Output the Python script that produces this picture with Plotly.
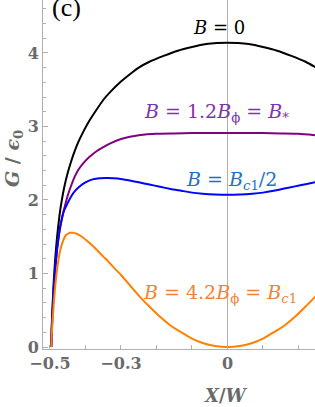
import plotly.graph_objects as go

# ---- data ----
x_b0 = [-0.4965, -0.495, -0.49, -0.485, -0.48, -0.475, -0.47, -0.46, -0.45, -0.44, -0.43, -0.42,
        -0.406, -0.39, -0.37, -0.35, -0.33, -0.3, -0.275, -0.25, -0.22, -0.18, -0.14, -0.1,
        -0.06, -0.03, 0.0, 0.03, 0.06, 0.1, 0.14, 0.18, 0.22, 0.25]
g_b0 = [0.0, 0.3, 0.85, 1.22, 1.5, 1.72, 1.9, 2.17, 2.37, 2.53, 2.67, 2.79,
        2.93, 3.07, 3.22, 3.36, 3.47, 3.61, 3.71, 3.8, 3.88, 3.96, 4.03, 4.08,
        4.12, 4.135, 4.14, 4.135, 4.12, 4.08, 4.03, 3.96, 3.88, 3.8]

x_bs = [-0.4965, -0.495, -0.49, -0.485, -0.48, -0.475, -0.47, -0.465, -0.46, -0.45, -0.44, -0.43,
        -0.42, -0.406, -0.39, -0.37, -0.35, -0.33, -0.3, -0.275, -0.25, -0.2, -0.15, -0.1,
        0.0, 0.1, 0.15, 0.2, 0.25]
g_bs = [0.0, 0.25, 0.76, 1.08, 1.33, 1.52, 1.66, 1.78, 1.88, 2.06, 2.2, 2.32,
        2.41, 2.5, 2.58, 2.66, 2.72, 2.77, 2.83, 2.86, 2.88, 2.9, 2.905, 2.91,
        2.91, 2.91, 2.905, 2.9, 2.88]

x_bh = [-0.4965, -0.495, -0.49, -0.485, -0.48, -0.475, -0.47, -0.46, -0.45, -0.44, -0.43, -0.415,
        -0.4, -0.38, -0.36, -0.34, -0.32, -0.3, -0.275, -0.25, -0.22, -0.19, -0.16, -0.13,
        -0.1, -0.07, -0.035, 0.0, 0.035, 0.07, 0.1, 0.13, 0.16, 0.19, 0.22, 0.25]
g_bh = [0.0, 0.22, 0.72, 1.08, 1.33, 1.52, 1.67, 1.86, 1.96, 2.05, 2.12, 2.19,
        2.24, 2.28, 2.297, 2.3, 2.295, 2.285, 2.265, 2.24, 2.21, 2.18, 2.15, 2.125,
        2.1, 2.085, 2.074, 2.07, 2.074, 2.085, 2.1, 2.125, 2.155, 2.185, 2.215, 2.245]

x_bc = [-0.4965, -0.495, -0.49, -0.485, -0.48, -0.475, -0.47, -0.465, -0.46, -0.455, -0.45, -0.443,
        -0.435, -0.425, -0.41, -0.39, -0.37, -0.35, -0.339, -0.32, -0.3, -0.275, -0.25, -0.22,
        -0.19, -0.16, -0.13, -0.1, -0.07, -0.035, 0.0, 0.035, 0.07, 0.1, 0.13, 0.16,
        0.19, 0.22, 0.25]
g_bc = [0.0, 0.17, 0.55, 0.84, 1.06, 1.22, 1.34, 1.42, 1.48, 1.52, 1.54, 1.553,
        1.555, 1.54, 1.5, 1.42, 1.33, 1.23, 1.18, 1.08, 0.98, 0.84, 0.7, 0.55,
        0.41, 0.29, 0.2, 0.115, 0.055, 0.014, 0.0, 0.014, 0.055, 0.115, 0.2, 0.29,
        0.41, 0.55, 0.7]

x_tickvals = [-0.5, -0.4, -0.3, -0.2, -0.1, 0.0, 0.1, 0.2]
x_ticktext = ["<b>\u22120.5</b>", "", "<b>\u22120.3</b>", "", "", "<b>0</b>", "", ""]
y_tickvals = [0, 1, 2, 3, 4]
y_ticktext = ["<b>0</b>", "<b>1</b>", "<b>2</b>", "<b>3</b>", "<b>4</b>"]

W, H = 315, 407
ML, MR, MT, MB = 43, 0, 0, 58
PW, PH = W - ML - MR, H - MT - MB

TIMES = "Liberation Serif, DejaVu Serif, serif"
DEJA = "DejaVu Serif, serif"

def px(xp, yp):
    return (xp - ML) / PW, (H - MB - yp) / PH

fig = go.Figure()
series = [(x_b0, g_b0, "black"), (x_bs, g_bs, "#800080"),
          (x_bh, g_bh, "#0000ff"), (x_bc, g_bc, "#ff8000")]
for xs, gs, c in series:
    fig.add_trace(go.Scatter(x=xs, y=gs, mode="lines",
                             line=dict(color=c, width=2, shape="spline", smoothing=0.5),
                             showlegend=False, hoverinfo="skip"))

tickfont = dict(family=DEJA, size=16, color="#6a6a6a")
fig.update_layout(
    width=W, height=H, margin=dict(l=ML, r=MR, t=MT, b=MB),
    paper_bgcolor="white", plot_bgcolor="white",
    font=dict(family=DEJA),
    xaxis=dict(range=[-0.5197, 0.2465], showgrid=False, zeroline=True,
               zerolinecolor="#b0b0b0", zerolinewidth=1,
               showline=True, linecolor="#b0b0b0", linewidth=1,
               ticks="inside", ticklen=4, tickcolor="#b0b0b0",
               tickvals=x_tickvals, ticktext=x_ticktext,
               tickfont=tickfont),
    yaxis=dict(range=[-0.027, 4.72], showgrid=False, zeroline=False,
               showline=True, linecolor="#b0b0b0", linewidth=1,
               ticks="inside", ticklen=5, tickcolor="#b0b0b0",
               tickvals=y_tickvals, ticktext=y_ticktext,
               tickfont=tickfont,
               minor=dict(ticks="inside", ticklen=3, dtick=0.2, tickcolor="#b0b0b0", showgrid=False)),
)

annos = []
def add(text, xp, yp, size, color, family=DEJA, angle=0):
    ax, ay = px(xp, yp)
    annos.append(dict(text=text, x=ax, y=ay, xref="paper", yref="paper",
                      showarrow=False, xanchor="center", yanchor="middle",
                      textangle=angle, font=dict(family=family, size=size, color=color)))

add("(c)", 66, 8, 26, "black", TIMES)
add("<b><i>X</i>/<i>W</i></b>", 226, 395, 18, "#6a6a6a")
add("<b><i>G</i> / <i>ϵ</i><sub>0</sub></b>", 13, 159, 19, "#6a6a6a", DEJA, -90)
add("<i>B</i> = 0", 219, 28, 18, "black")
add("<i>B</i> = 1.2<i>B</i><sub>ϕ</sub> = <i>B</i><sub>*</sub>", 216, 112, 19, "#8033a8")
add("<i>B</i> = <i>B</i><sub><i>c</i>1</sub>/2", 231, 180, 19, "#1f6fc8")
add("<i>B</i> = 4.2<i>B</i><sub>ϕ</sub> = <i>B</i><sub><i>c</i>1</sub>", 220, 293, 19, "#f0823a")
fig.update_layout(annotations=annos)

fig.write_html("out.html", config={"displayModeBar": False},
               post_script="document.body.style.margin='0';document.body.style.padding='0';")
